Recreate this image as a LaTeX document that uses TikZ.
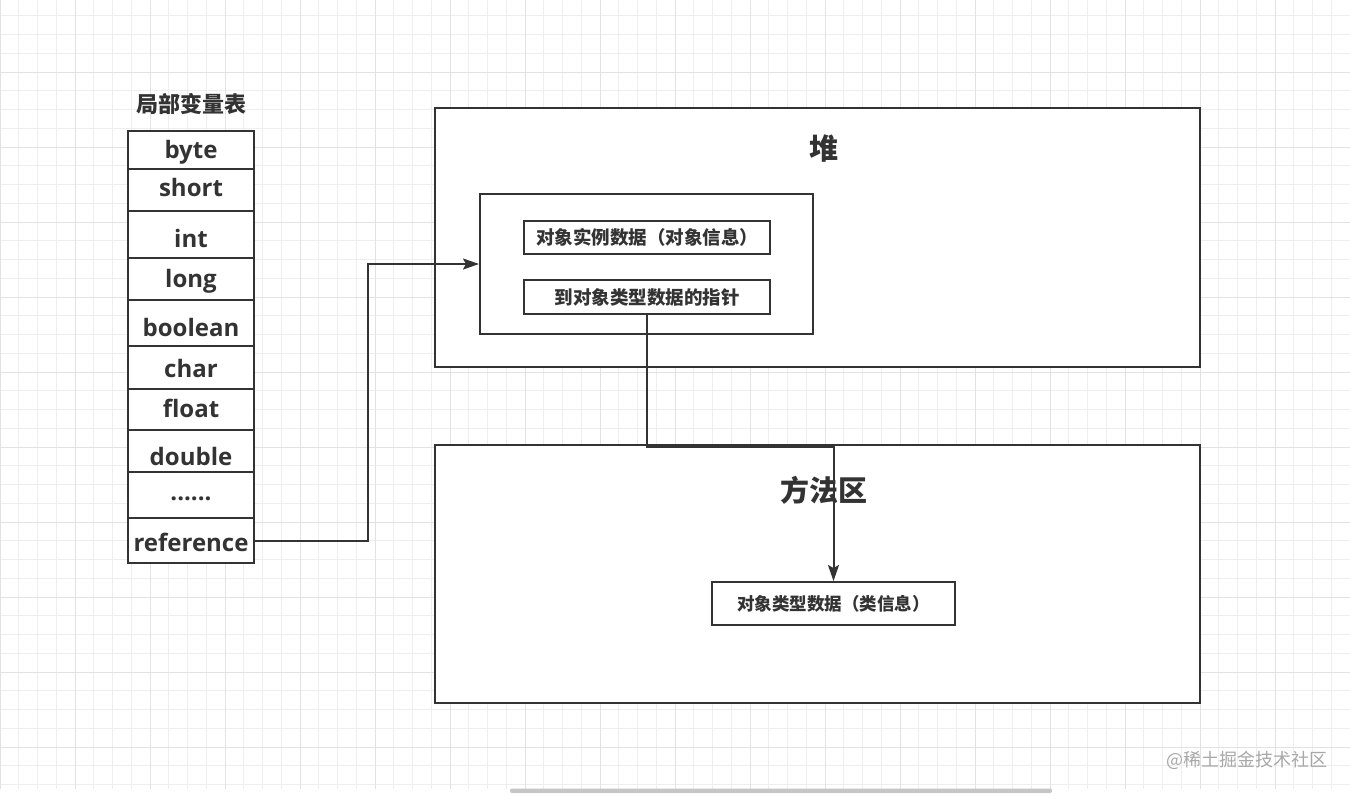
\documentclass[tikz,border=0pt]{standalone}
\usepackage{fontspec}
\setmainfont{Noto Sans CJK SC}
\newfontfamily\cjk{Noto Sans CJK SC}
\newfontfamily\lat{Open Sans}
\usetikzlibrary{arrows.meta}
\definecolor{ink}{HTML}{333333}
\definecolor{gridminor}{HTML}{EEEEEE}
\definecolor{gridmajor}{HTML}{E2E2E2}
\definecolor{wm}{HTML}{A8A8A8}
\tikzset{
  box/.style={draw=ink, line width=2pt, fill=white, inner sep=0pt, rectangle},
  row/.style={box, minimum width=126pt, font=\lat\bfseries\fontsize{24}{24}\selectfont, text=ink, text height=18pt, text depth=5pt},
  inbox/.style={box, font=\cjk\bfseries\fontsize{18.5}{18.5}\selectfont, text=ink},
  title/.style={inner sep=0pt, text=ink, font=\cjk\bfseries\fontsize{29}{29}\selectfont},
  arr/.style={draw=ink, line width=2pt, -{Stealth[length=16pt,width=11pt,inset=3pt]}},
}
\begin{document}
\begin{tikzpicture}[x=1pt,y=-1pt]
\useasboundingbox (0,0) rectangle (1350,793);
\fill[white] (0,0) rectangle (1350,793);
% grid
\foreach \i in {0,...,72} {
  \draw[gridminor, line width=1pt] (\i*18.75,0) -- (\i*18.75,789);
}
\foreach \j in {0,...,42} {
  \draw[gridminor, line width=1pt] (0,{-3+\j*18.75}) -- (1350,{-3+\j*18.75});
}
\foreach \i in {0,...,18} {
  \draw[gridmajor, line width=1pt] (\i*75,0) -- (\i*75,789);
}
\foreach \j in {1,...,10} {
  \draw[gridmajor, line width=1pt] (0,{-3+\j*75}) -- (1350,{-3+\j*75});
}
% scroll bar
\fill[gray!45, rounded corners=2pt] (510,788.5) rectangle (1052,793);

% local variable table
\node[title, font=\cjk\bfseries\fontsize{22}{22}\selectfont] (lvt) at (191,104) {局部变量表};
\node[row, minimum height=38pt, text height=22pt] (r1) at (191,150) {byte};
\node[row, minimum height=42pt] (r2) at (191,190) {short};
\node[row, minimum height=47pt, text height=26pt, text depth=1pt] (r3) at (191,234.5) {int};
\node[row, minimum height=42pt, text height=22pt] (r4) at (191,279) {long};
\node[row, minimum height=46pt, text height=28pt, text depth=1pt] (r5) at (191,323) {boolean};
\node[row, minimum height=43pt, text height=24pt] (r6) at (191,367.5) {char};
\node[row, minimum height=41pt, text height=20pt] (r7) at (191,409.5) {float};
\node[row, minimum height=42pt, text height=28pt, text depth=-2pt] (r8) at (191,451) {double};
\node[row, minimum height=46pt, text height=16pt] (r9) at (191,495) {......};
\node[row, minimum height=45pt, text height=24pt, text depth=2pt] (ref) at (191,540.5) {reference};

% heap
\node[box, minimum width=765pt, minimum height=259pt] (heap) at (817.5,237.5) {};
\node[title] (heapt) at (824,149) {堆};
\node[box, minimum width=333pt, minimum height=140pt] (obj) at (646.5,264) {};
\node[inbox, minimum width=246pt, minimum height=33.5pt] (inst) at (647,237.5) {对象实例数据（对象信息）};
\node[inbox, minimum width=246pt, minimum height=34pt] (ptr) at (647,297) {到对象类型数据的指针};

% method area
\node[box, minimum width=765pt, minimum height=258pt] (meth) at (817.5,574) {};
\node[title] (metht) at (824,490) {方法区};
\node[inbox, minimum width=243pt, minimum height=43pt, font=\cjk\bfseries\fontsize{17.5}{17.5}\selectfont] (cls) at (833.5,603.5) {对象类型数据（类信息）};

% connectors
\draw[arr] (ref.east) -- ++(113,0) |- (obj.west);
\draw[arr] (ptr.south) -- (ptr.south |- 0,447) -| (cls.north);

% watermark
\node[inner sep=0pt, text=wm, font=\cjk\fontsize{18}{18}\selectfont] (wmk) at (1247,760) {@稀土掘金技术社区};
\end{tikzpicture}
\end{document}
